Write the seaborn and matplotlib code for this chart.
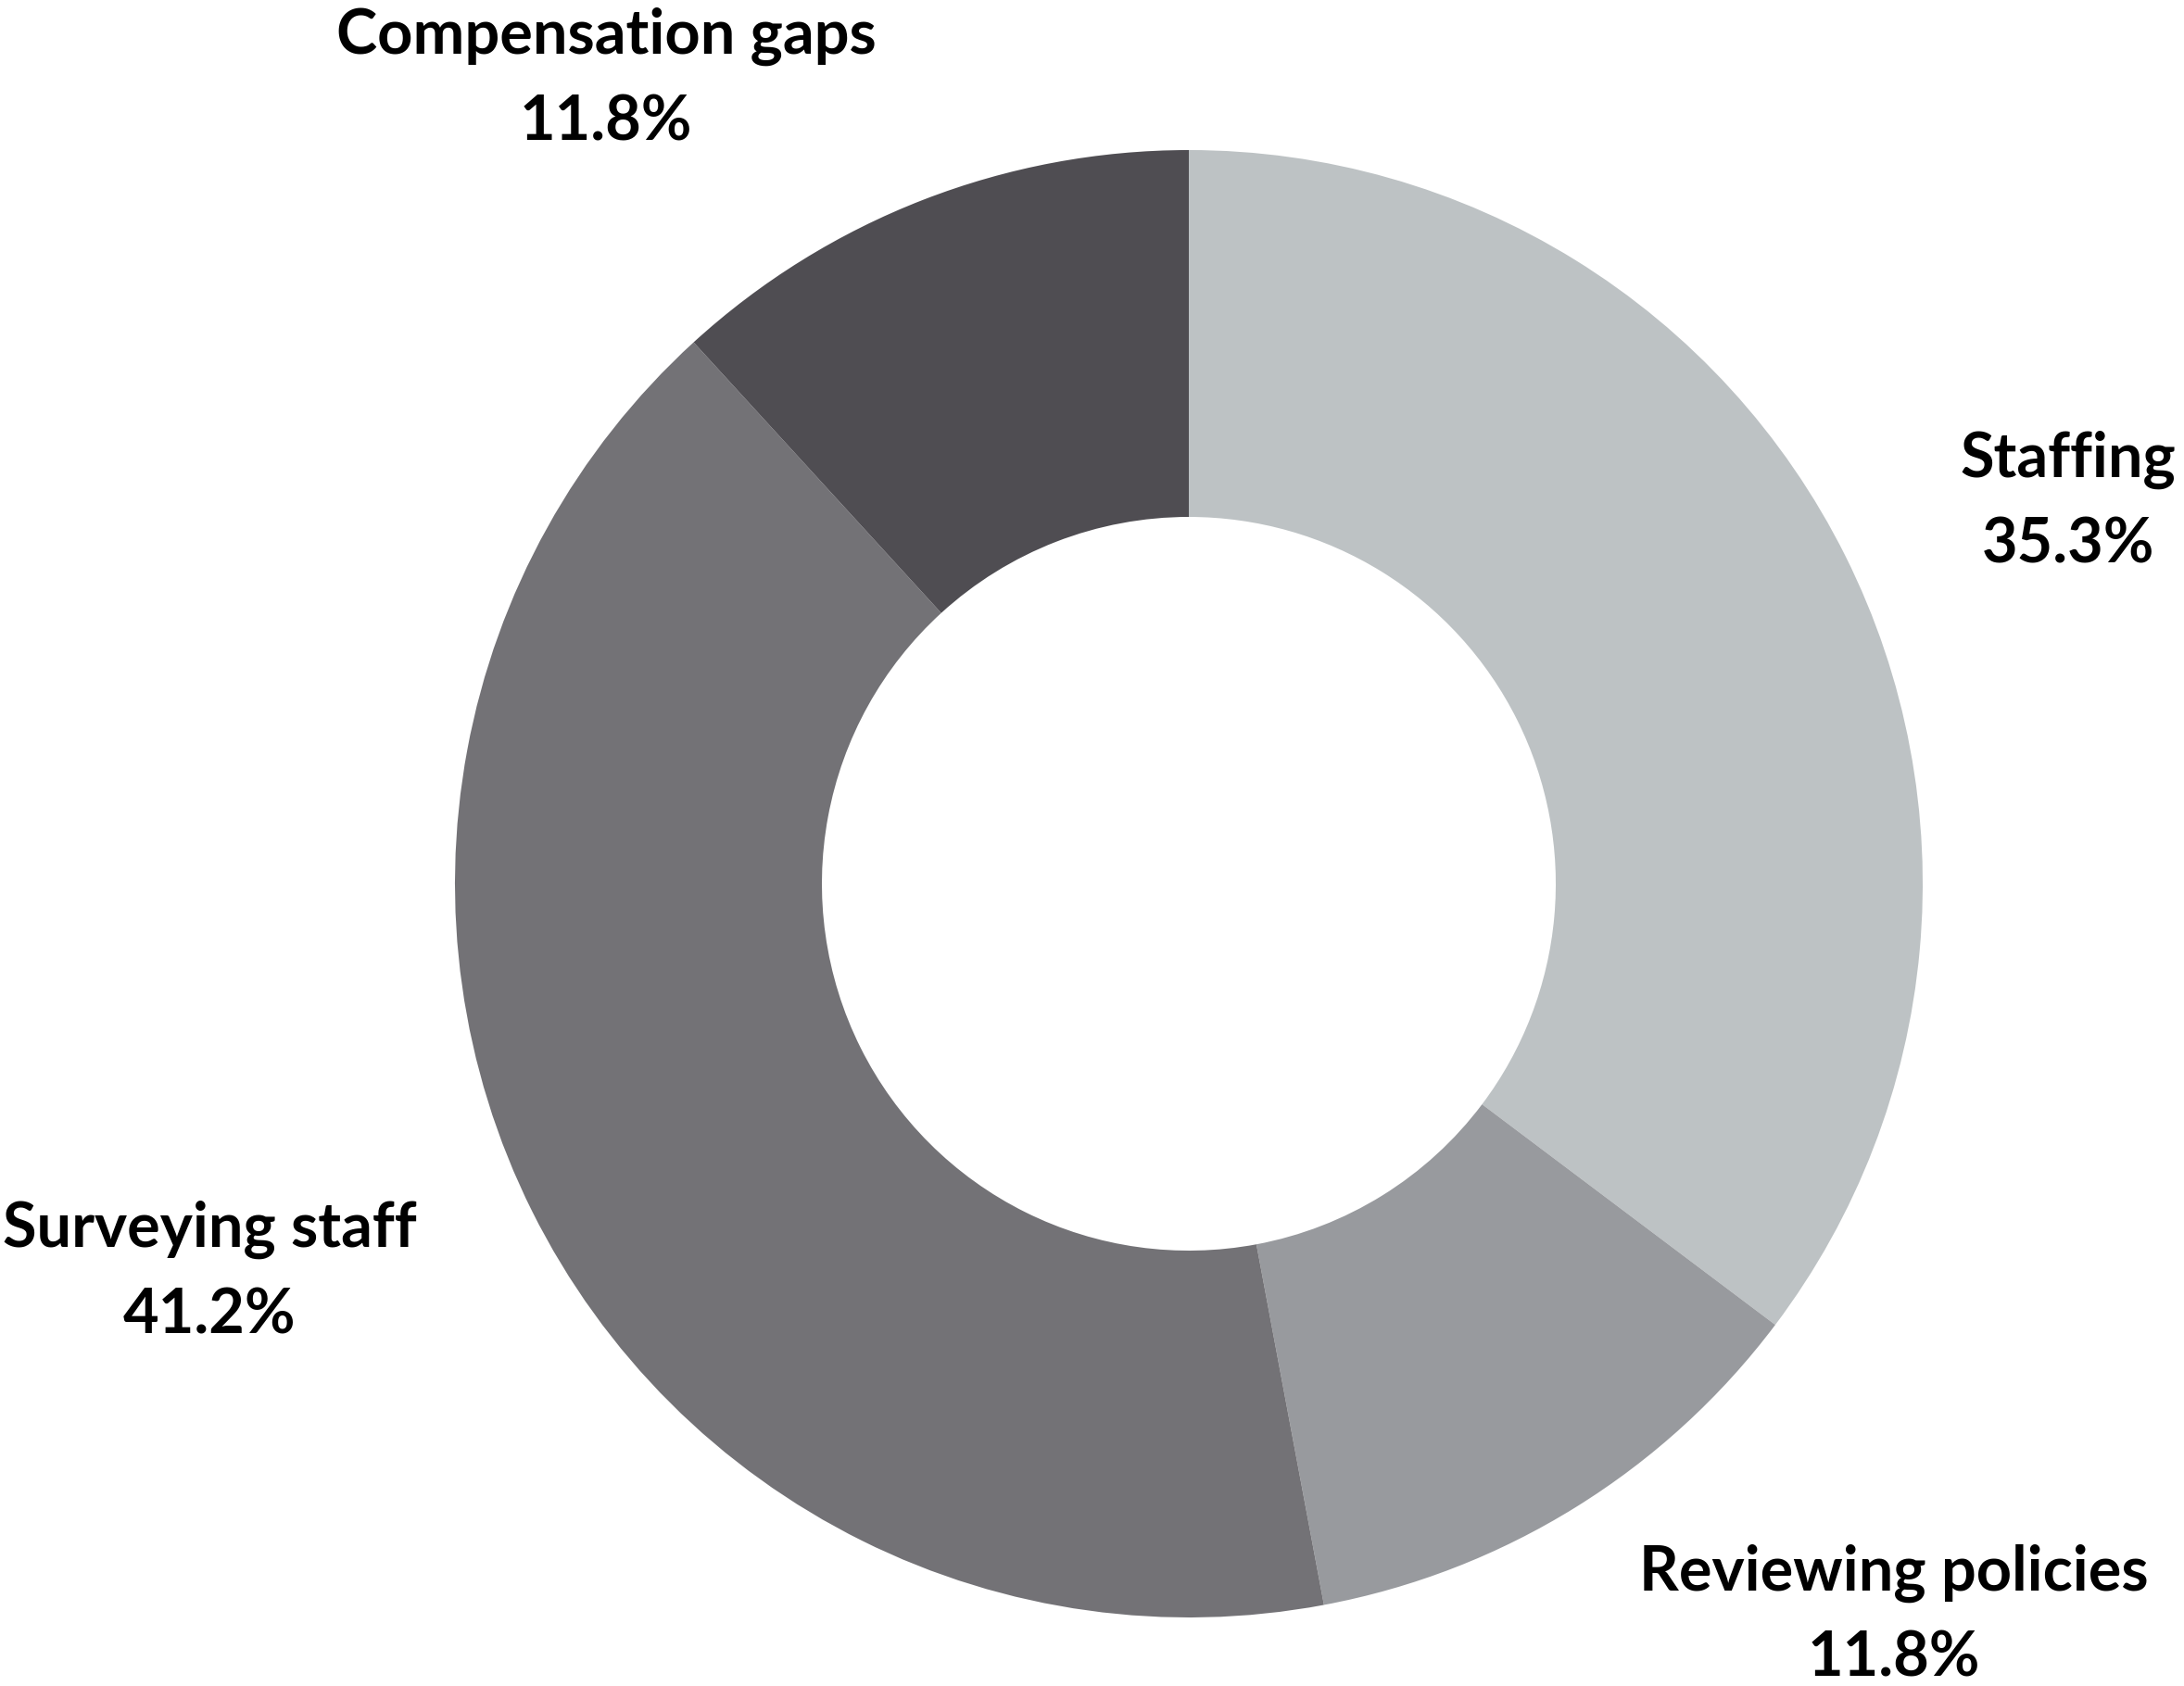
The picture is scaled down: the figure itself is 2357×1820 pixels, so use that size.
import matplotlib
matplotlib.use("Agg")
import matplotlib.pyplot as plt
import seaborn as sns

# ---- data ----
categories = ["Staffing", "Reviewing policies", "Surveying staff", "Compensation gaps"]
shares = [35.3, 11.8, 41.2, 11.8]
pct_labels = ["35.3%", "11.8%", "41.2%", "11.8%"]

# ---- style ----
colors = ["#BDC2C4", "#989A9E", "#737276", "#4F4D52"]
# label anchor (pixel x center, pixel baseline of first line) in full image coords
label_pos = [(2232, 515), (2044, 1717), (226, 1346), (654, 58)]
line_gap = 93

sns.set_theme(style="white")
plt.rcParams["font.family"] = ["Lato", "DejaVu Sans"]

W, H = 2357, 1820
fig = plt.figure(figsize=(W / 100, H / 100), dpi=100)
fig.patch.set_facecolor("white")

cx, cy, R = 1283, 954, 792
ax = fig.add_axes([(cx - R) / W, (H - cy - R) / H, 2 * R / W, 2 * R / H])
ax.pie(shares, colors=sns.color_palette(colors), startangle=90, counterclock=False,
       radius=1.0, wedgeprops=dict(width=0.5, linewidth=0))
ax.set_xlim(-1, 1)
ax.set_ylim(-1, 1)
ax.set_aspect("auto")
ax.axis("off")

for cat, pct, (x, y) in zip(categories, pct_labels, label_pos):
    fig.text(x / W, 1 - y / H, cat, ha="center", va="baseline",
             fontsize=48, fontweight="bold", color="#000000")
    fig.text(x / W, 1 - (y + line_gap) / H, pct, ha="center", va="baseline",
             fontsize=48, fontweight="bold", color="#000000")

fig.savefig("out.png", dpi=100, facecolor="white")
